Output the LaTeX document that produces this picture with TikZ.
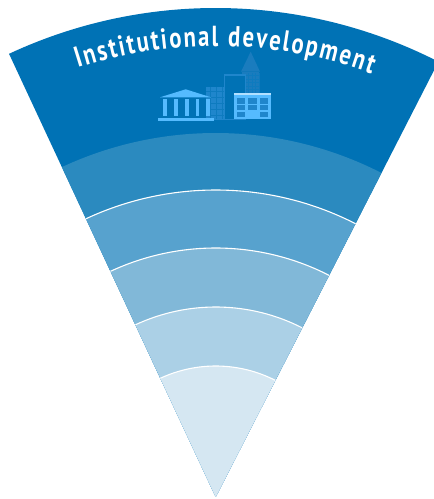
\documentclass[tikz,border=0pt]{standalone}
\usepackage{fontspec}
\usetikzlibrary{decorations.text,calc}
\newfontfamily\titlefont[FakeStretch=0.78]{PT Sans}
\definecolor{band1}{HTML}{0072B5}
\definecolor{band2}{HTML}{2B8ABF}
\definecolor{band3}{HTML}{57A2CE}
\definecolor{band4}{HTML}{81B8D8}
\definecolor{band5}{HTML}{ABD0E6}
\definecolor{band6}{HTML}{D5E7F2}
\definecolor{iconlight}{HTML}{55BBFF}
\definecolor{iconmid}{HTML}{1F86CC}
\definecolor{icondark}{HTML}{1A7CBE}
\tikzset{rim/.style = {draw=white,line width=1.1pt}}
\tikzset{flat/.style = {fill=#1,draw=none}}
\tikzset{panes/.style = {draw=band1!55!iconmid,line width=0.5pt}}

\begin{document}
\begin{tikzpicture}[x=1pt,y=1pt]
          \useasboundingbox (0,0) rectangle (434,499);
          \coordinate (apex) at (215.7,2);

          \fill[band1] (apex) -- ++(115:489) arc[start angle=115,end angle=62.9,radius=489] -- cycle;
          \fill[band2] (apex) -- ++(115:364) arc[start angle=115,end angle=62.9,radius=364] -- cycle;
          \fill[band3] (apex) -- ++(115:307) arc[start angle=115,end angle=62.9,radius=307] -- cycle;
          \fill[band4] (apex) -- ++(115:249) arc[start angle=115,end angle=62.9,radius=249] -- cycle;
          \fill[band5] (apex) -- ++(115:190) arc[start angle=115,end angle=62.9,radius=190] -- cycle;
          \fill[band6] (apex) -- ++(115:131) arc[start angle=115,end angle=62.9,radius=131] -- cycle;

          \draw[rim] ($(apex)+(115:307)$) arc[start angle=115,end angle=62.9,radius=307];
          \draw[rim] ($(apex)+(115:249)$) arc[start angle=115,end angle=62.9,radius=249];
          \draw[rim] ($(apex)+(115:190)$) arc[start angle=115,end angle=62.9,radius=190];
          \draw[rim] ($(apex)+(115:131)$) arc[start angle=115,end angle=62.9,radius=131];

          \path[decorate,decoration={text along path,text color=white,text align={fit to path},
            text={|\titlefont\bfseries\fontsize{29}{29}\selectfont|Institutional development}}]
            ($(apex)+(107.8:451)$) arc[start angle=107.8,end angle=69.8,radius=451];

          % tower and back blocks
          \path[flat=icondark] (241.7,406) rectangle (259,427.3);
          \path[flat=icondark] (241,427.3) -- (250.7,447.3) -- (260,427.3) -- cycle;
          \draw[panes,xstep=3.5,ystep=3.5] (246,406) grid (259,426);
          \path[flat=iconmid] (205.7,379) rectangle (224,412.3);
          \draw[panes,xstep=6,ystep=6] (206,380) grid (224,412);
          \draw[iconmid,line width=1.3pt,fill=band1] (224.7,379.5) rectangle (245.7,424);

          % temple
          \path[flat=iconlight] (160,401.7) -- (185.7,409.7) -- (211,401.7) -- cycle;
          \path[flat=iconlight] (163.2,383) rectangle (166.8,399.5);
          \path[flat=iconlight] (173.9,383) rectangle (177.5,399.5);
          \path[flat=iconlight] (184.9,383) rectangle (188.5,399.5);
          \path[flat=iconlight] (195.5,383) rectangle (199.1,399.5);
          \path[flat=iconlight] (205.9,383) rectangle (209.5,399.5);
          \path[flat=iconlight] (158,378.3) rectangle (214,381);

          % front block
          \path[flat=iconlight] (233.7,380) rectangle (270.7,405.7);
          \path[flat=white!55!iconlight] (233.7,404.3) rectangle (270.7,405.7);
          \path[flat=iconmid] (237,395) rectangle (245,401);
          \path[flat=iconmid] (248,395) rectangle (257,401);
          \path[flat=iconmid] (260,395) rectangle (268,401);
          \path[flat=iconmid] (237,389) rectangle (245,394);
          \path[flat=iconmid] (248,389) rectangle (257,394);
          \path[flat=iconmid] (260,389) rectangle (268,394);
          \path[flat=iconmid] (237,382) rectangle (245,387);
          \path[flat=iconmid] (260,382) rectangle (268,387);
        \end{tikzpicture}
\end{document}
